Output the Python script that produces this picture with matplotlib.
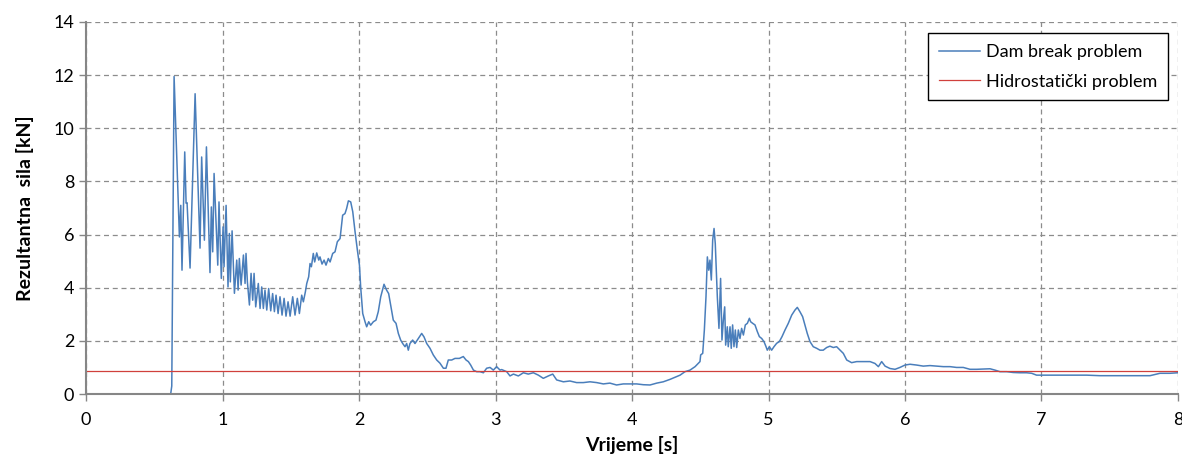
import numpy as np
import matplotlib.pyplot as plt

plt.rcParams['font.family'] = ['Lato', 'DejaVu Sans']

# vrijeme [s] i rezultantna sila [kN], ocitano sa slike
t = [0.0, 0.62, 0.628, 0.645, 0.684, 0.694, 0.703, 0.723, 0.733, 0.74, 0.762,
     0.799, 0.835, 0.847, 0.867, 0.882, 0.908, 0.918, 0.928, 0.938, 0.965,
     0.974, 0.991, 1.004, 1.011, 1.026, 1.040, 1.050, 1.057, 1.070, 1.087,
     1.104, 1.114, 1.123, 1.136, 1.153, 1.165, 1.172, 1.182, 1.197, 1.209,
     1.221, 1.231, 1.243, 1.262, 1.275, 1.287, 1.299, 1.311, 1.324, 1.338,
     1.353, 1.367, 1.380, 1.392, 1.407, 1.421, 1.436, 1.451, 1.465, 1.480,
     1.495, 1.514, 1.531, 1.548, 1.563, 1.580, 1.592, 1.607, 1.617, 1.631,
     1.641, 1.651, 1.665, 1.675, 1.690, 1.705, 1.714, 1.729, 1.744, 1.758,
     1.775, 1.788, 1.807, 1.824, 1.841, 1.861,
     1.880, 1.897, 1.909, 1.922, 1.939, 1.954, 1.971, 1.988, 2.003, 2.012,
     2.027, 2.044, 2.056, 2.071, 2.085, 2.105, 2.124, 2.141, 2.159, 2.183,
     2.202, 2.217, 2.232, 2.251, 2.271, 2.288, 2.305, 2.320, 2.337, 2.349,
     2.361, 2.373, 2.393, 2.410, 2.427, 2.442, 2.459, 2.476, 2.496, 2.520,
     2.544, 2.569, 2.593, 2.618, 2.637, 2.654, 2.679, 2.703, 2.735, 2.764,
     2.784, 2.801, 2.818, 2.838, 2.862, 2.886, 2.911, 2.935, 2.960, 2.984,
     3.008, 3.033,
     3.045, 3.082, 3.106, 3.131, 3.167, 3.204, 3.240, 3.277, 3.314, 3.350,
     3.387, 3.419, 3.448, 3.497, 3.545, 3.594, 3.643, 3.692, 3.741, 3.790,
     3.838, 3.887, 3.936, 3.985, 4.034, 4.083, 4.132, 4.181, 4.229, 4.278,
     4.315, 4.352, 4.388, 4.425, 4.462, 4.498,
     4.503, 4.518, 4.530, 4.542, 4.552, 4.562, 4.571, 4.581, 4.591, 4.601,
     4.610, 4.625, 4.637, 4.649, 4.659, 4.669, 4.679, 4.686, 4.698, 4.705,
     4.718, 4.727, 4.737, 4.747, 4.757, 4.767, 4.779, 4.791, 4.803, 4.816,
     4.830, 4.845, 4.860, 4.869, 4.884, 4.901, 4.918, 4.933, 4.950, 4.967,
     4.982, 4.991, 5.006, 5.023, 5.040, 5.060, 5.079, 5.099, 5.121, 5.145,
     5.170, 5.194, 5.211, 5.231, 5.250, 5.267, 5.284, 5.304, 5.328, 5.353,
     5.377, 5.401, 5.426, 5.450, 5.475, 5.499,
     5.548, 5.573, 5.609, 5.646, 5.695, 5.744, 5.780, 5.805, 5.829, 5.854,
     5.890, 5.927, 5.963, 6.000, 6.037, 6.085, 6.134, 6.183, 6.232, 6.281,
     6.330, 6.378, 6.427, 6.476, 6.525, 6.574, 6.623, 6.659, 6.696, 6.745,
     6.793, 6.842, 6.891, 6.928, 6.964, 7.038, 7.135, 7.233, 7.331, 7.428,
     7.526, 7.624, 7.721, 7.795, 7.868, 7.941, 8.0]

sila = [0.0, 0.0, 0.3, 11.95, 5.91, 7.10, 4.66, 9.11, 7.18, 7.20, 4.74,
        11.30, 5.49, 8.92, 5.79, 9.30, 4.57, 7.04, 5.35, 8.30, 4.85,
        7.23, 4.35, 6.29, 4.79, 7.10, 4.03, 6.04, 4.22, 6.14, 3.79,
        5.04, 3.91, 5.10, 4.10, 5.23, 4.16, 5.29, 4.22, 3.35, 4.54,
        3.53, 4.54, 3.28, 4.16, 3.22, 4.03, 3.22, 3.91, 3.16, 3.97,
        3.13, 3.78, 3.10, 3.72, 3.03, 3.66, 2.97, 3.60, 2.93, 3.47,
        2.93, 3.66, 2.97, 3.60, 3.03, 3.72, 3.47, 3.85, 4.16, 4.41,
        4.91, 4.79, 5.29, 4.97, 5.31, 5.04, 5.16, 4.89, 5.04, 4.85,
        5.10, 4.97, 5.29, 5.35, 5.73, 5.85,
        6.73, 6.79, 6.98, 7.27, 7.23, 6.86, 6.10, 5.41, 4.85, 4.03,
        3.03, 2.72, 2.53, 2.72, 2.59, 2.72, 2.78, 3.10, 3.66, 4.13,
        3.91, 3.78, 3.34, 2.78, 2.66, 2.28, 2.03, 1.90, 1.78, 1.90,
        1.65, 1.90, 2.03, 1.90, 2.03, 2.15, 2.28, 2.15, 1.90, 1.72,
        1.47, 1.28, 1.16, 0.97, 0.97, 1.28, 1.28, 1.34, 1.34, 1.41,
        1.28, 1.22, 1.09, 0.90, 0.84, 0.84, 0.80, 0.97, 1.00, 0.90,
        1.03, 0.90,
        0.92, 0.84, 0.68, 0.75, 0.68, 0.80, 0.75, 0.80, 0.71, 0.59,
        0.68, 0.75, 0.53, 0.46, 0.49, 0.43, 0.43, 0.46, 0.43, 0.38,
        0.41, 0.34, 0.38, 0.38, 0.38, 0.35, 0.34, 0.41, 0.46, 0.55,
        0.63, 0.71, 0.84, 0.90, 1.03, 1.22,
        1.47, 1.53, 2.41, 3.66, 5.16, 4.66, 5.04, 4.29, 5.79, 6.23,
        5.66, 3.66, 2.47, 4.35, 2.03, 2.78, 3.28, 1.84, 2.53, 1.78,
        2.53, 1.72, 2.60, 1.78, 2.41, 1.75, 2.41, 2.09, 2.47, 2.22,
        2.60, 2.66, 2.85, 2.72, 2.66, 2.60, 2.35, 2.16, 2.09, 1.97,
        1.78, 1.65, 1.78, 1.65, 1.78, 1.91, 1.97, 2.16, 2.41, 2.66,
        2.97, 3.16, 3.26, 3.09, 2.91, 2.60, 2.28, 1.97, 1.78, 1.72,
        1.65, 1.65, 1.75, 1.80, 1.75, 1.78,
        1.53, 1.28, 1.18, 1.22, 1.22, 1.22, 1.15, 1.03, 1.22, 1.05,
        0.96, 0.93, 1.00, 1.09, 1.12, 1.09, 1.05, 1.07, 1.05, 1.03,
        1.03, 1.00, 1.00, 0.93, 0.93, 0.94, 0.95, 0.90, 0.84, 0.84,
        0.81, 0.80, 0.80, 0.78, 0.71, 0.71, 0.71, 0.71, 0.71, 0.69,
        0.69, 0.69, 0.69, 0.69, 0.78, 0.78, 0.80]

hidro_t = [0.0, 8.0]
hidro_sila = [0.86, 0.86]

fig = plt.figure(figsize=(11.82, 4.61), dpi=100)
ax = fig.add_axes([0.0728, 0.1453, 0.9238, 0.807])

ax.plot(t, sila, color='#4a7ebb', lw=1.1, label='Dam break problem')
ax.plot(hidro_t, hidro_sila, color='#d0403c', lw=0.9, label='Hidrostatički problem')

ax.set_xlim(0, 8)
ax.set_ylim(0, 14)
ax.set_xticks(range(0, 9))
ax.set_yticks(range(0, 15, 2))
ax.grid(True, color='#8c8c8c', linestyle=(0, (4, 3)), linewidth=0.9)
ax.set_axisbelow(True)

for s in ['top', 'right']:
    ax.spines[s].set_visible(False)
for s in ['left', 'bottom']:
    ax.spines[s].set_color('#868686')
    ax.spines[s].set_linewidth(1.5)
ax.tick_params(colors='#868686', labelcolor='black', labelsize=13, length=5, width=1)
ax.tick_params(axis='x', pad=8)

ax.set_xlabel('Vrijeme [s]', fontsize=14, fontweight='bold', labelpad=6)
ax.set_ylabel('Rezultantna  sila [kN]', fontsize=14, fontweight='bold', labelpad=14)

leg = ax.legend(loc='upper right', bbox_to_anchor=(0.9908, 0.970), borderaxespad=0,
                fontsize=13, frameon=True, fancybox=False, edgecolor='black',
                framealpha=1, handlelength=2.3, handletextpad=0.3, borderpad=0.6,
                labelspacing=0.75)
leg.get_frame().set_linewidth(1.0)

fig.savefig('out.png', dpi=100)
